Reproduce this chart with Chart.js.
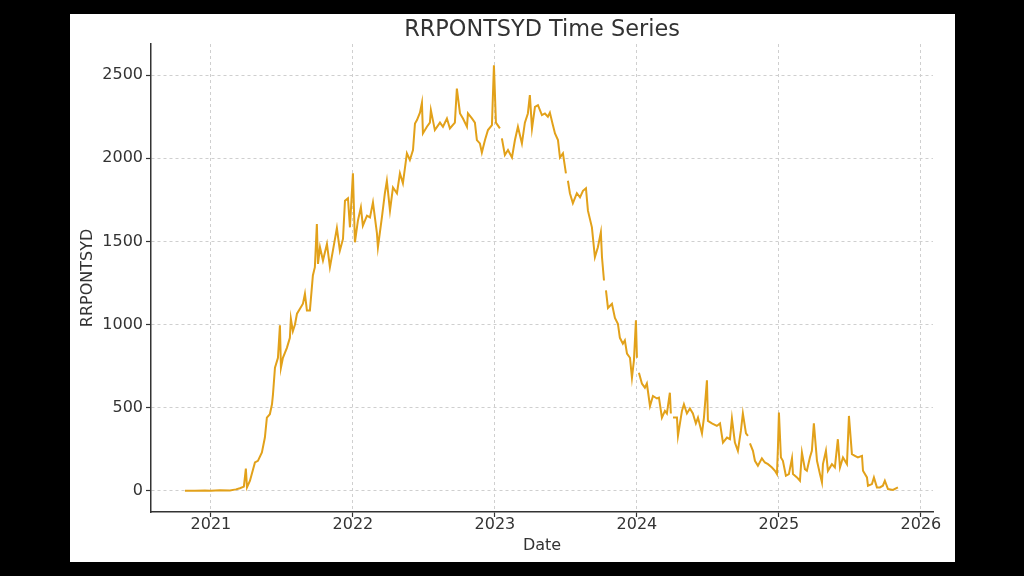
<!DOCTYPE html>
<html>
<head>
<meta charset="utf-8">
<script src="https://cdn.jsdelivr.net/npm/chart.js@4.4.1/dist/chart.umd.min.js"></script>
<style>
  html, body { margin: 0; padding: 0; background: #000; }
  #fig { position: absolute; left: 70px; top: 14px; width: 885px; height: 548px; background: #fff; }
</style>
</head>
<body>
<div id="fig"><canvas id="myChart" width="885" height="548"></canvas></div>
<script>
'use strict';

// dates as decimal years (null = gap in the series)
const dates = [
  2020.817, 2020.887, 2020.958, 2021.000, 2021.063, 2021.134, 2021.176, 2021.204, 2021.232, 2021.246,
  2021.254, 2021.275, 2021.310, 2021.331, 2021.359, 2021.380, 2021.394, 2021.415, 2021.430, 2021.437,
  2021.451, 2021.472, 2021.486, 2021.493, 2021.507, 2021.535, 2021.556, 2021.563, 2021.577, 2021.592,
  2021.606, 2021.627, 2021.648, 2021.662, 2021.676, 2021.697, 2021.711, 2021.718, 2021.732, 2021.746,
  2021.754, 2021.768, 2021.789, 2021.817, 2021.838, 2021.859, 2021.887, 2021.908, 2021.930, 2021.944,
  2021.965, 2021.979, 2022.000, 2022.014, 2022.035, 2022.056, 2022.070, 2022.099, 2022.120, 2022.141,
  2022.169, 2022.176, 2022.204, 2022.225, 2022.239, 2022.261, 2022.282, 2022.310, 2022.331, 2022.352,
  2022.380, 2022.401, 2022.423, 2022.437, 2022.451, 2022.472, 2022.486, 2022.493, 2022.521, 2022.542,
  2022.549, 2022.577, 2022.613, 2022.634, 2022.662, 2022.683, 2022.718, 2022.732, 2022.754, 2022.775,
  2022.803, 2022.810, 2022.838, 2022.859, 2022.873, 2022.894, 2022.908, 2022.930, 2022.951, 2022.979,
  2022.993, 2023.007, 2023.035, 2023.042, 2023.049, 2023.070, 2023.092, 2023.120, 2023.141, 2023.162,
  2023.190, 2023.211, 2023.232, 2023.246, 2023.261, 2023.282, 2023.303, 2023.331, 2023.352, 2023.373,
  2023.387, 2023.408, 2023.423, 2023.444, 2023.458, 2023.479, 2023.500, 2023.507, 2023.514, 2023.528,
  2023.549, 2023.577, 2023.599, 2023.620, 2023.641, 2023.655, 2023.683, 2023.690, 2023.704, 2023.725,
  2023.746, 2023.754, 2023.768, 2023.775, 2023.782, 2023.796, 2023.824, 2023.845, 2023.866, 2023.880,
  2023.901, 2023.915, 2023.930, 2023.951, 2023.965, 2023.979, 2023.993, 2024.000, 2024.007, 2024.014,
  2024.035, 2024.056, 2024.070, 2024.092, 2024.113, 2024.141, 2024.155, 2024.176, 2024.197, 2024.211,
  2024.232, 2024.239, 2024.246, 2024.254, 2024.282, 2024.289, 2024.317, 2024.331, 2024.352, 2024.373,
  2024.394, 2024.415, 2024.430, 2024.458, 2024.472, 2024.493, 2024.500, 2024.528, 2024.563, 2024.585,
  2024.606, 2024.634, 2024.655, 2024.669, 2024.690, 2024.711, 2024.732, 2024.746, 2024.768, 2024.782,
  2024.789, 2024.796, 2024.817, 2024.831, 2024.852, 2024.880, 2024.901, 2024.923, 2024.951, 2024.972,
  2024.986, 2024.993, 2025.000, 2025.014, 2025.028, 2025.049, 2025.070, 2025.092, 2025.099, 2025.127,
  2025.148, 2025.162, 2025.183, 2025.197, 2025.218, 2025.232, 2025.246, 2025.268, 2025.289, 2025.303,
  2025.310, 2025.331, 2025.345, 2025.373, 2025.394, 2025.415, 2025.430, 2025.451, 2025.479, 2025.493,
  2025.514, 2025.535, 2025.556, 2025.585, 2025.592, 2025.620, 2025.627, 2025.655, 2025.669, 2025.690,
  2025.711, 2025.732, 2025.746, 2025.768, 2025.803, 2025.838
];

const rrp = [
  0, 0, 2, 0, 3, 2, 8, 15, 25, 133,
  20, 60, 170, 180, 230, 320, 440, 460, 520, 580,
  740, 800, 995, 740, 800, 860, 920, 1035, 960, 1000,
  1065, 1095, 1125, 1185, 1085, 1085, 1225, 1295, 1345, 1605,
  1365, 1465, 1385, 1485, 1345, 1445, 1580, 1445, 1515, 1745,
  1760, 1585, 1910, 1495, 1625, 1705, 1595, 1655, 1645, 1735,
  1550, 1465, 1645, 1790, 1865, 1685, 1825, 1790, 1910, 1850,
  2030, 1990, 2050, 2210, 2230, 2275, 2335, 2150, 2190, 2215,
  2290, 2170, 2215, 2190, 2240, 2180, 2215, 2420, 2270, 2240,
  2190, 2270, 2240, 2215, 2110, 2090, 2035, 2110, 2170, 2200,
  2560, 2215, 2180, null, 2120, 2020, 2050, 2005, 2110, 2190,
  2090, 2215, 2270, 2380, 2180, 2310, 2320, 2260, 2270, 2250,
  2275, 2200, 2150, 2110, 2005, 2030, 1910, null, 1865, 1790,
  1730, 1790, 1765, 1805, 1820, 1685, 1585, 1525, 1405, 1465,
  1555, 1405, 1265, null, 1205, 1100, 1125, 1040, 1005, 920,
  885, 905, 825, 800, 680, 785, 1025, 800, null, 710,
  645, 620, 645, 510, 570, 555, 560, 440, 480, 465,
  590, 465, null, 440, 440, 330, 480, 520, 465, 495,
  465, 405, 440, 345, 440, 665, 420, 405, 390, 405,
  290, 320, 310, 435, 290, 240, 360, 465, 345, 330,
  null, 285, 240, 180, 150, 195, 170, 160, 140, 120,
  100, 260, 470, 200, 180, 90, 100, 195, 100, 80,
  60, 230, 130, 120, 200, 240, 405, 180, 100, 50,
  160, 240, 120, 160, 140, 310, 140, 200, 160, 450,
  220, 210, 200, 210, 120, 80, 30, 40, 80, 20,
  20, 30, 60, 10, 5, 20
];

const xTicks = [2021, 2022, 2023, 2024, 2025, 2026];
const yTicks = [0, 500, 1000, 1500, 2000, 2500];
const chartTitle = 'RRPONTSYD Time Series';

const textColor = '#333333';
const gridColor = '#cfcfcf';

let points = [];
for (let i = 0; i < dates.length; i++) {
  points.push({x: dates[i], y: rrp[i]});
}

// title centred over the plot area (like matplotlib), not the whole canvas
const plotTitle = {
  id: 'plotTitle',
  afterDraw(chart) {
    const c = chart.ctx;
    const area = chart.chartArea;
    c.save();
    c.font = '22.4px "DejaVu Sans"';
    c.fillStyle = textColor;
    c.textAlign = 'center';
    c.textBaseline = 'middle';
    c.fillText(chartTitle, (area.left + area.right) / 2, 16);
    c.restore();
  }
};

let ctx = document.getElementById('myChart').getContext('2d');
let myChart = new Chart(ctx, {
  type: 'line',
  data: {
    datasets: [{
      label: 'RRPONTSYD',
      data: points,
      borderColor: '#E2A11A',
      borderWidth: 2,
      pointRadius: 0,
      tension: 0,
      spanGaps: false,
    }]
  },
  options: {
    responsive: false,
    animation: false,
    devicePixelRatio: 1,
    layout: { padding: { left: 0, right: 22, top: 30, bottom: 0 } },
    plugins: {
      legend: { display: false },
      tooltip: { enabled: false },
      title: { display: false },
    },
    scales: {
      x: {
        type: 'linear',
        min: 2020.578,
        max: 2026.085,
        afterBuildTicks: (axis) => { axis.ticks = xTicks.map(v => ({value: v})); },
        afterFit: (axis) => { axis.height = 50; },
        ticks: {
          color: textColor,
          font: { family: 'DejaVu Sans', size: 16 },
          padding: -2,
          maxRotation: 0,
          callback: (v) => String(v),
        },
        grid: {
          color: gridColor,
          tickColor: textColor,
          tickLength: 5,
          tickBorderDash: [],
          tickWidth: 1.2,
        },
        border: { display: true, color: textColor, width: 1.5, dash: [3, 3] },
        title: {
          display: true,
          text: 'Date',
          color: textColor,
          font: { family: 'DejaVu Sans', size: 16 },
          padding: { top: 0, bottom: 6.4 },
        },
      },
      y: {
        type: 'linear',
        min: -128,
        max: 2688,
        afterBuildTicks: (axis) => { axis.ticks = yTicks.map(v => ({value: v})); },
        afterFit: (axis) => { axis.width = 81; },
        ticks: {
          color: textColor,
          font: { family: 'DejaVu Sans', size: 16 },
          padding: 3,
          callback: (v) => String(v),
        },
        grid: {
          color: gridColor,
          tickColor: textColor,
          tickLength: 5,
          tickBorderDash: [],
          tickWidth: 1.2,
        },
        border: { display: true, color: textColor, width: 1.5, dash: [3, 3] },
        title: {
          display: true,
          text: 'RRPONTSYD',
          color: textColor,
          font: { family: 'DejaVu Sans', size: 16 },
          padding: { top: 8.4, bottom: 0 },
        },
      },
    },
  },
  plugins: [plotTitle],
});
</script>
</body>
</html>
